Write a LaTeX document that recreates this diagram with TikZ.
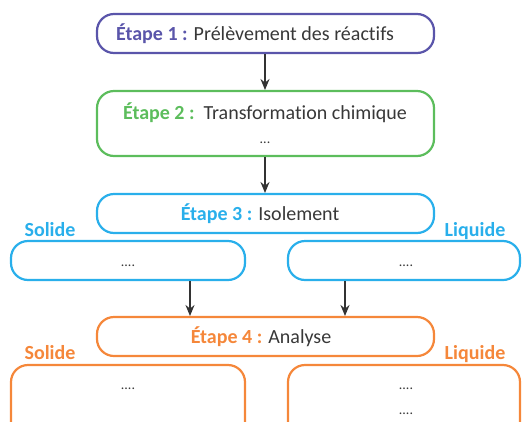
\documentclass[tikz,border=0pt]{standalone}
\usepackage{fontspec}
\setmainfont[Ligatures=NoCommon]{Carlito}
\usetikzlibrary{arrows.meta}
\definecolor{cpurple}{HTML}{5A55AA}
\definecolor{cgreen}{HTML}{5CBD5C}
\definecolor{ccyan}{HTML}{29AFEB}
\definecolor{corange}{HTML}{F5873A}
\definecolor{ctext}{HTML}{383838}
\definecolor{carrow}{HTML}{333333}
\tikzset{
  stepbox/.style={draw=#1, line width=2.2pt, rounded corners=17pt},
  txt/.style={inner sep=0pt, anchor=base, text=ctext, font=\fontsize{20}{24}\selectfont},
  side/.style={inner sep=0pt, anchor=base, text=#1, font=\fontsize{20}{24}\selectfont\bfseries},
  dots/.style={inner sep=0pt, anchor=base, text=ctext, font=\fontsize{14}{16}\selectfont},
  flow/.style={draw=carrow, line width=1.8pt, -{Stealth[length=11pt,width=9pt]}},
}
\begin{document}
\begin{tikzpicture}[x=1pt,y=-1pt]
\useasboundingbox (0,0) rectangle (522,421);
\begin{scope}
\clip (0,0) rectangle (522,421);
% the four steps and the two branches below steps 3 and 4
\path[stepbox=cpurple] (97,14) rectangle (434,53);
\path[stepbox=cgreen] (97,91) rectangle (434,156);
\path[stepbox=ccyan] (97,194) rectangle (434,233);
\path[stepbox=ccyan] (11,241) rectangle (245,280);
\path[stepbox=ccyan] (288,241) rectangle (520,280);
\path[stepbox=corange] (97,317) rectangle (434,356);
\path[stepbox=corange] (11,365) rectangle (245,445);
\path[stepbox=corange] (288,365) rectangle (520,445);

% connector ends on the box edges
\coordinate (a1s) at (265,54);  \coordinate (a1e) at (265,90);
\coordinate (a2s) at (265,157); \coordinate (a2e) at (265,193);
\coordinate (a3s) at (190,281); \coordinate (a3e) at (190,316);
\coordinate (a4s) at (345,281); \coordinate (a4e) at (345,316);
\draw[flow] (a1s) -- (a1e);
\draw[flow] (a2s) -- (a2e);
\draw[flow] (a3s) -- (a3e);
\draw[flow] (a4s) -- (a4e);

% step titles
\node[txt] (t1) at (255,40) {\textcolor{cpurple}{\bfseries Étape 1 :} Prélèvement des réactifs};
\node[txt] (t2) at (265,119) {\textcolor{cgreen}{\bfseries Étape 2 :}\ \ Transformation chimique};
\node[dots] (t2b) at (265,143) {...};
\node[txt] (t3) at (260,220) {\textcolor{ccyan}{\bfseries Étape 3 :} Isolement};
\node[txt] (t4) at (261,343) {\textcolor{corange}{\bfseries Étape 4 :} Analyse};

% branch labels
\node[side=ccyan] (s1) at (50,236) {Solide};
\node[side=ccyan] (l1) at (475,236) {Liquide};
\node[side=corange] (s2) at (50,359) {Solide};
\node[side=corange] (l2) at (475,359) {Liquide};

% placeholders
\node[dots] (d1) at (128,266) {....};
\node[dots] (d2) at (406,266) {....};
\node[dots] (d3) at (128,389) {....};
\node[dots] (d4) at (406,389) {....};
\node[dots] (d5) at (406,414) {....};
\end{scope}
\end{tikzpicture}
\end{document}
